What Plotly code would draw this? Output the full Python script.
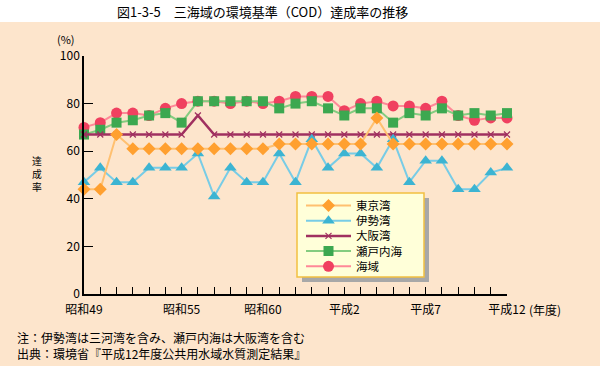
import plotly.graph_objects as go

years = list(range(1974, 2001))
tick_labels = {1974: "昭和49", 1980: "昭和55", 1985: "昭和60", 1990: "平成2", 1995: "平成7", 2000: "平成12"}

tokyo = [44, 44, 67, 61, 61, 61, 61, 61, 61, 61, 61, 61, 63, 63, 63, 63, 63, 63, 74, 63, 63, 63, 63, 63, 63, 63, 63]
ise = [47, 53, 47, 47, 53, 53, 53, 59, 41, 53, 47, 47, 59, 47, 65, 53, 59, 59, 53, 65, 47, 56, 56, 44, 44, 51, 53]
osaka = [67, 67, 67, 67, 67, 67, 67, 75, 67, 67, 67, 67, 67, 67, 67, 67, 67, 67, 67, 67, 67, 67, 67, 67, 67, 67, 67]
seto = [67, 69, 72, 73, 75, 76, 72, 81, 81, 81, 81, 81, 78, 80, 81, 78, 75, 78, 78, 72, 76, 75, 78, 75, 76, 75, 76]
kaiiki = [70, 72, 76, 76, 75, 78, 80, 81, 81, 80, 81, 80, 81, 83, 83, 83, 77, 80, 81, 79, 79, 78, 81, 75, 73, 74, 74]
ytitle_chars = ["達", "成", "率"]

FONT = "Noto Sans CJK JP"
BG = "#FDE5CC"

# (name, values, line color, marker color, symbol, size, legend row)
series = [
    ("海域", kaiiki, "#FF8898", "#F04060", "circle", 11, 4),
    ("瀬戸内海", seto, "#84CC80", "#3CA850", "square", 10, 3),
    ("大阪湾", osaka, "#A03060", "#A03060", "x-thin", 6, 2),
    ("伊勢湾", ise, "#78CCE6", "#3CB4D2", "triangle-up", 11, 1),
    ("東京湾", tokyo, "#FFC070", "#FFA030", "diamond", 10, 0),
]

L, R, T, B = 84, 93, 56, 72
W, H = 600, 366
pw, ph = W - L - R, H - T - B

def px(xp):
    return (xp - L) / pw

def py(yp):
    return (H - B - yp) / ph

fig = go.Figure()
legend_layouts = {}
for name, vals, lc, mc, sym, sz, row in series:
    marker = dict(color=mc, size=sz, symbol=sym, line=dict(width=0))
    if sym == "x-thin":
        marker["line"] = dict(color=mc, width=1.2)
    lname = "legend" if row == 0 else f"legend{row + 1}"
    fig.add_trace(go.Scatter(
        x=years, y=vals, name=name, mode="lines+markers",
        line=dict(color=lc, width=2.5 if sym == "x-thin" else 2),
        marker=marker, cliponaxis=False, legend=lname,
    ))
    legend_layouts[lname] = dict(
        x=px(301), y=py(205.5 + 15.2 * row), xanchor="left", yanchor="middle",
        bgcolor="rgba(0,0,0,0)", borderwidth=0,
        font=dict(size=11.5, family=FONT), itemwidth=45,
    )

annotations = [
    dict(text="図1-3-5　三海域の環境基準（COD）達成率の推移", xref="paper", yref="paper",
         x=px(115), y=py(11), xanchor="left", yanchor="middle", showarrow=False,
         font=dict(size=13)),
    dict(text="(%)", xref="paper", yref="paper", x=px(66), y=py(39),
         xanchor="center", yanchor="middle", showarrow=False, font=dict(size=11)),
    dict(text="(年度)", xref="paper", yref="paper", x=px(527), y=py(309),
         xanchor="left", yanchor="middle", showarrow=False, font=dict(size=12)),
    dict(text="注：伊勢湾は三河湾を含み、瀬戸内海は大阪湾を含む", xref="paper", yref="paper",
         x=px(15), y=py(337), xanchor="left", yanchor="middle", showarrow=False,
         font=dict(size=12)),
    dict(text="出典：環境省『平成12年度公共用水域水質測定結果』", xref="paper", yref="paper",
         x=px(15), y=py(353), xanchor="left", yanchor="middle", showarrow=False,
         font=dict(size=12)),
]
for i, ch in enumerate(ytitle_chars):
    annotations.append(dict(text=ch, xref="paper", yref="paper", x=px(37), y=py(161 + 13 * i),
                            xanchor="center", yanchor="middle", showarrow=False,
                            borderpad=0, font=dict(size=9.8)))

fig.update_layout(
    width=W, height=H,
    margin=dict(l=L, r=R, t=T, b=B),
    paper_bgcolor=BG, plot_bgcolor=BG,
    font=dict(family=FONT, size=12, color="black"),
    showlegend=True,
    xaxis=dict(range=[1974, 2000], tickvals=years,
               ticktext=[tick_labels.get(y, "") for y in years],
               ticks="inside", ticklen=7, tickwidth=1, tickcolor="black",
               showline=True, linecolor="black", linewidth=1.5,
               showgrid=False, zeroline=False, tickfont=dict(size=12),
               ticklabelstandoff=4),
    yaxis=dict(range=[0, 100], tickvals=[0, 20, 40, 60, 80, 100],
               ticks="inside", ticklen=9, tickwidth=1, tickcolor="black",
               showline=True, linecolor="black", linewidth=1.5,
               showgrid=False, zeroline=False, tickfont=dict(size=12)),
    shapes=[
        dict(type="rect", xref="paper", yref="paper",
             x0=-0.3, x1=1.3, y0=py(22), y1=py(-2),
             fillcolor="white", line=dict(width=0), layer="below"),
        dict(type="rect", xref="paper", yref="paper",
             x0=px(302), x1=px(429), y0=py(282), y1=py(198),
             fillcolor="#A8A8A8", line=dict(width=0), layer="above"),
        dict(type="rect", xref="paper", yref="paper",
             x0=px(297), x1=px(424), y0=py(277), y1=py(193),
             fillcolor="#FFFFD9", line=dict(color="#F2C040", width=1.5), layer="above"),
    ],
    annotations=annotations,
    **legend_layouts,
)

fig.write_html("out.html", post_script="document.body.style.margin='0';",
               config={"displayModeBar": False})
